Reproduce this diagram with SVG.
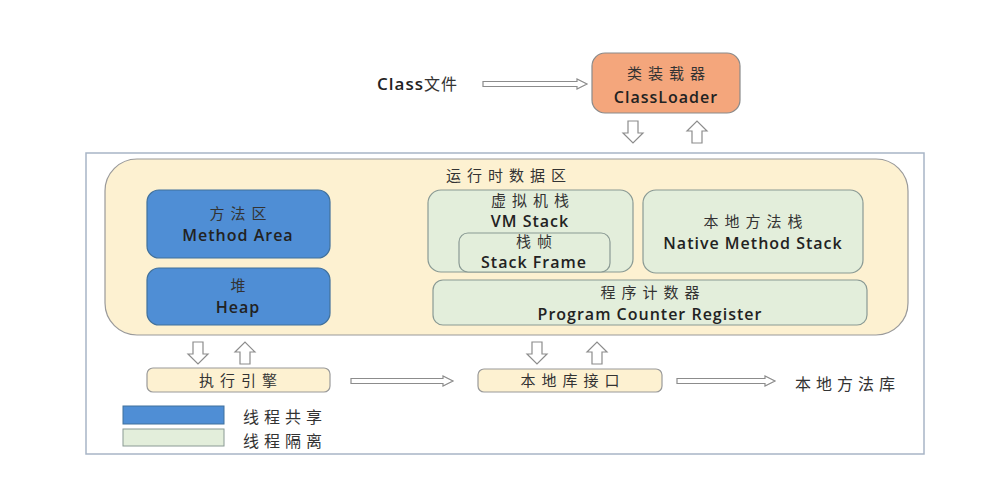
<svg xmlns="http://www.w3.org/2000/svg" xmlns:xlink="http://www.w3.org/1999/xlink" width="1005" height="499" viewBox="0 0 1005 499">
<defs>
<style>
.en{font-family:"Open Sans","Noto Sans",sans-serif;font-weight:600;font-size:16px;fill:#222;text-anchor:middle;letter-spacing:1px}
.zh{font-family:"Noto Sans CJK SC",sans-serif;font-size:15px;fill:#333;text-anchor:middle;letter-spacing:6px}
.zl{font-family:"Noto Sans CJK SC",sans-serif;font-size:16px;fill:#333;letter-spacing:5px}
.blue{fill:#4f8ed5;stroke:#41719c;stroke-width:1.2}
.green{fill:#e3eedb;stroke:#8a9a94;stroke-width:1.2}
.yel{fill:#fdf1d1;stroke:#9a9a9a;stroke-width:1.2}
.arr{fill:#fff;stroke:#8c8c8c;stroke-width:1.2}
</style>
<path id="down" class="arr" d="M-5,0 H5 V12 H10 L0,22 L-10,12 H-5 Z"/>
<path id="up" class="arr" d="M-5,22 H5 V10 H10 L0,0 L-10,10 H-5 Z"/>
</defs>
<rect width="1005" height="499" fill="#fff"/>
<rect id="frame" x="86" y="153" width="838" height="301" fill="none" stroke="#a8b5c6" stroke-width="1.5"/>

<g id="classfile"><text class="zl" x="377" y="90" style="letter-spacing:1px"><tspan style="font-family:'Open Sans',sans-serif;font-weight:600;font-size:17px;fill:#222">Class</tspan>文件</text></g>

<g id="classloader">
<rect x="592" y="53" width="148" height="60" rx="13" fill="#f4a67c" stroke="#8a8a8a" stroke-width="1.2"/>
<text class="zh" x="669" y="79">类装载器</text>
<text class="en" x="666" y="103">ClassLoader</text>
</g>

<g id="runtime">
<rect class="yel" x="105" y="159" width="803" height="176" rx="32"/>
<text class="zh" x="509" y="181">运行时数据区</text>
</g>

<g id="method">
<rect class="blue" x="147" y="190" width="183" height="68" rx="12"/>
<text class="zh" x="241" y="219">方法区</text>
<text class="en" x="238" y="241">Method Area</text>
</g>
<g id="heap">
<rect class="blue" x="147" y="268" width="183" height="57" rx="12"/>
<text class="zh" x="241" y="291">堆</text>
<text class="en" x="238" y="313">Heap</text>
</g>

<g id="vmstack">
<rect class="green" x="428" y="190" width="205" height="82" rx="13"/>
<text class="zh" x="533" y="206">虚拟机栈</text>
<text class="en" x="530" y="227">VM Stack</text>
</g>
<g id="stackframe">
<rect class="green" x="459" y="233" width="151" height="39" rx="9"/>
<text class="zh" x="537" y="247">栈帧</text>
<text class="en" x="534" y="268">Stack Frame</text>
</g>
<g id="native">
<rect class="green" x="643" y="190" width="220" height="83" rx="13"/>
<text class="zh" x="756" y="227">本地方法栈</text>
<text class="en" x="753" y="249">Native Method Stack</text>
</g>
<g id="pc">
<rect class="green" x="433" y="280" width="434" height="45" rx="10"/>
<text class="zh" x="653" y="298">程序计数器</text>
<text class="en" x="650" y="320">Program Counter Register</text>
</g>

<g id="engine">
<rect class="yel" x="147" y="368" width="183" height="24" rx="6"/>
<text class="zh" x="241" y="386">执行引擎</text>
</g>
<g id="nativeif">
<rect class="yel" x="478" y="369" width="184" height="23" rx="6"/>
<text class="zh" x="573" y="386">本地库接口</text>
</g>
<g id="nativelib"><text class="zl" x="795" y="390">本地方法库</text></g>

<g id="legend">
<rect x="123" y="406" width="101" height="18" fill="#4f8ed5" stroke="#41719c"/>
<rect x="123" y="429" width="101" height="17" fill="#e3eedb" stroke="#8a9a94"/>
<text class="zl" x="243" y="423">线程共享</text>
<text class="zl" x="243" y="447">线程隔离</text>
</g>

<g id="connectors">
<path class="arr" d="M483,81.5 H577 V79 L587,84 L577,89 V86.5 H483 Z"/>
<path class="arr" d="M351,378.5 H443 V376 L453,381 L443,386 V383.5 H351 Z"/>
<path class="arr" d="M677,378.5 H765 V376 L775,381 L765,386 V383.5 H677 Z"/>
<use xlink:href="#down" x="633" y="121"/>
<use xlink:href="#up" x="697" y="121"/>
<use xlink:href="#down" x="198" y="342"/>
<use xlink:href="#up" x="245" y="342"/>
<use xlink:href="#down" x="537" y="342"/>
<use xlink:href="#up" x="597" y="342"/>
</g>
</svg>
